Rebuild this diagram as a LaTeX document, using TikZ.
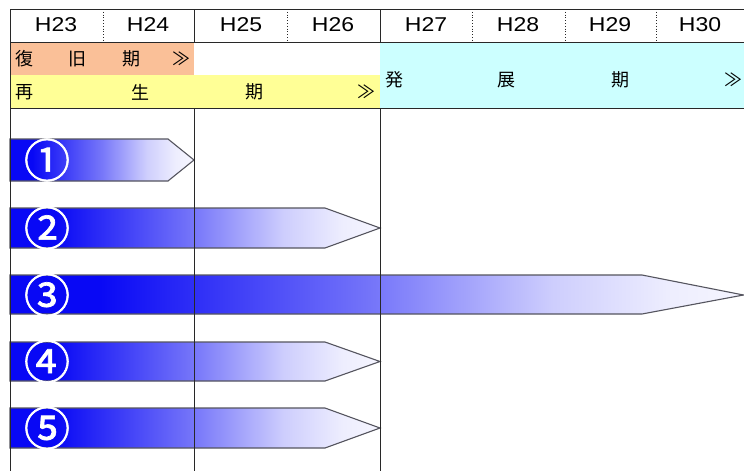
\documentclass[tikz,border=0pt]{standalone}
\usepackage{fontspec}
\newfontfamily\jp{Noto Sans CJK JP}
\newfontfamily\cnum[FakeBold=1.5]{Noto Sans CJK JP}
\newfontfamily\hfont[FakeStretch=1.15]{Liberation Sans}
\definecolor{bblue}{RGB}{8,8,245}
\definecolor{orangerow}{RGB}{250,192,152}
\definecolor{yellowrow}{RGB}{255,255,150}
\definecolor{cyanrow}{RGB}{204,255,255}
\definecolor{gridline}{RGB}{40,40,40}
\definecolor{barline}{RGB}{85,85,95}
\pgfdeclarehorizontalshading{barfade}{100bp}{color(0bp)=(bblue); color(25bp)=(bblue); color(31bp)=(bblue); color(50bp)=(bblue!55); color(62bp)=(bblue!20); color(70bp)=(bblue!7); color(75bp)=(bblue!4); color(100bp)=(bblue!4)}
\tikzset{
  bararrow/.style={shading=barfade, draw=barline, line width=1.1pt},
  hdr/.style={font=\hfont\fontsize{20}{20}\selectfont, inner sep=0pt, anchor=center},
  rowtxt/.style={font=\jp\fontsize{18}{18}\selectfont, inner sep=0pt, anchor=center},
  numtxt/.style={font=\cnum\fontsize{46}{46}\selectfont, text=white, inner sep=0pt, anchor=center},
  solidline/.style={draw=gridline, line width=0.9pt},
  dotline/.style={draw=gridline, line width=0.8pt, dotted},
}
\begin{document}
\begin{tikzpicture}[x=1pt,y=-1pt]
\useasboundingbox (0,0) rectangle (744,471);
\fill[white] (0,0) rectangle (744,471);
% period rows
\fill[orangerow] (10,42) rectangle (194,75);
\fill[yellowrow] (10,75) rectangle (380,108);
\fill[cyanrow] (380,42) rectangle (744,108);
% header labels
\node[hdr] (h23) at (56,25) {H23};
\node[hdr] (h24) at (148,25) {H24};
\node[hdr] (h25) at (241,25) {H25};
\node[hdr] (h26) at (333,25) {H26};
\node[hdr] (h27) at (426,25) {H27};
\node[hdr] (h28) at (518,25) {H28};
\node[hdr] (h29) at (610,25) {H29};
\node[hdr] (h30) at (700,25) {H30};
% row texts
\node[rowtxt] (o1) at (24,59) {復};
\node[rowtxt] (o2) at (77,59) {旧};
\node[rowtxt] (o3) at (131,59) {期};
\node[rowtxt] (o4) at (181,59) {≫};
\node[rowtxt] (y1) at (24,92) {再};
\node[rowtxt] (y2) at (140,92) {生};
\node[rowtxt] (y3) at (254,92) {期};
\node[rowtxt] (y4) at (366,92) {≫};
\node[rowtxt] (c1) at (394,80) {発};
\node[rowtxt] (c2) at (506,80) {展};
\node[rowtxt] (c3) at (620,80) {期};
\node[rowtxt] (c4) at (733,80) {≫};
% arrows
\shade[bararrow] (10,139) -- (168,139) -- (194,160) -- (168,181) -- (10,181) -- cycle;
\shade[bararrow] (10,208) -- (325,208) -- (380,228) -- (325,248) -- (10,248) -- cycle;
\shade[bararrow] (10,275) -- (642,275) -- (743.5,295) -- (642,314) -- (10,314) -- cycle;
\shade[bararrow] (10,342) -- (325,342) -- (380,361.5) -- (325,381) -- (10,381) -- cycle;
\shade[bararrow] (10,408) -- (325,408) -- (380,428) -- (325,448) -- (10,448) -- cycle;
\node[numtxt] (n1) at (47,160) {①};
\node[numtxt] (n2) at (47,228) {②};
\node[numtxt] (n3) at (47,295) {③};
\node[numtxt] (n4) at (47,361.5) {④};
\node[numtxt] (n5) at (47,428) {⑤};
% grid
\draw[solidline] (10,9) -- (744,9);
\draw[solidline] (10,42) -- (744,42);
\draw[solidline] (10,108) -- (744,108);
\draw[solidline] (10,9) -- (10,471);
\draw[solidline] (194,9) -- (194,42);
\draw[solidline] (194,108) -- (194,471);
\draw[solidline] (380,9) -- (380,42);
\draw[solidline] (380,108) -- (380,471);
\draw[dotline] (103,9) -- (103,42);
\draw[dotline] (287,9) -- (287,42);
\draw[dotline] (472,9) -- (472,42);
\draw[dotline] (565,9) -- (565,42);
\draw[dotline] (656,9) -- (656,42);
\end{tikzpicture}
\end{document}
